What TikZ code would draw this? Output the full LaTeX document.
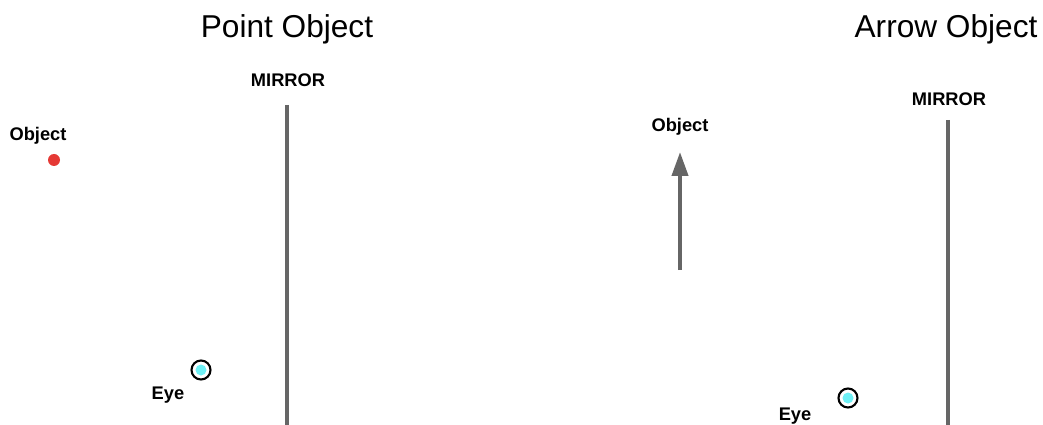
\documentclass[tikz,border=0pt]{standalone}
\usepackage{fontspec}
\setmainfont{Liberation Sans}
\usetikzlibrary{positioning}
\usetikzlibrary{arrows.meta}
\definecolor{mirrorgray}{HTML}{666666}
\definecolor{dotred}{HTML}{E53935}
\definecolor{eyecyan}{HTML}{6EF0F5}

\begin{document}
\begin{tikzpicture}[x=0.02cm, y=-0.02cm,
  title/.style={font=\fontsize{18}{20}\selectfont},
  tag/.style={font=\fontsize{10.4}{12}\selectfont\bfseries},
  mirror/.style={line width=4*0.02cm, draw=mirrorgray},
  eye/.style={circle, draw, line width=1.2pt, fill=white, minimum size=19*0.02cm, inner sep=0pt,
    path picture={\fill[eyecyan] (path picture bounding box.center) circle (5.5*0.02cm);}},
]
\useasboundingbox (0,0) rectangle (1043,425);
%\draw[help lines] (0,0) grid (1043,425);
% point object
\node[title] (T1) at (287,29) {Point Object};
\node[tag] (M1) at (288,80) {MIRROR};
\coordinate (M1top) at (287,105);
\coordinate (M1bot) at (287,425);
\draw[mirror] (M1top) -- (M1bot);
\node[tag] (O1) at (38,136) {Object};
\node[circle, fill=dotred, minimum size=12*0.02cm, inner sep=0pt] (P1) at (54,160) {};
\node[eye] (E1) at (201,370) {};
\node[tag] (L1) at (168,395) {Eye};
% arrow object
\node[title] (T2) at (946,29) {Arrow Object};
\node[tag] (M2) at (949,99) {MIRROR};
\coordinate (M2top) at (948,120);
\coordinate (M2bot) at (948,425);
\draw[mirror] (M2top) -- (M2bot);
\node[tag] (O2) at (680,127) {Object};
\coordinate (A2tail) at (680,270);
\coordinate (A2head) at (680,152);
\draw[-{Triangle[width=16*0.02cm, length=24*0.02cm]}, line width=4*0.02cm, mirrorgray] (A2tail) -- (A2head);
\node[eye] (E2) at (848,398) {};
\node[tag] (L2) at (795,416) {Eye};
\end{tikzpicture}
\end{document}
